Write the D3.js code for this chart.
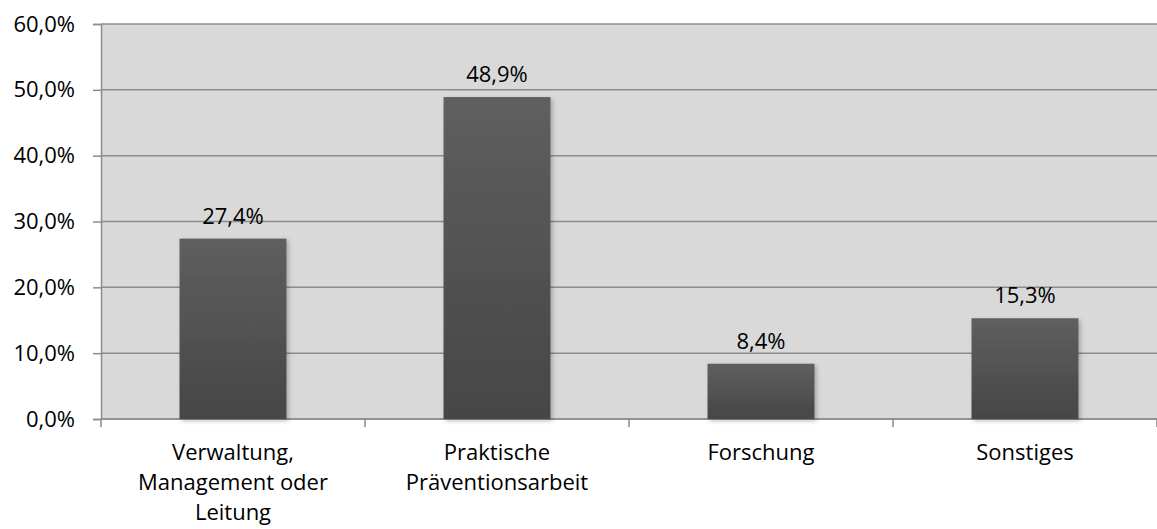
<!DOCTYPE html>
<html><head><meta charset="utf-8">
<script src="https://cdn.jsdelivr.net/npm/d3@7"></script>
<style>body{margin:0;background:#fff}svg{display:block}text{font-family:"Open Sans","DejaVu Sans",sans-serif;fill:#000}</style>
</head><body><svg id="c" width="1157" height="529"></svg>
<script>
const categories = [["Verwaltung,","Management oder","Leitung"],["Praktische","Präventionsarbeit"],["Forschung"],["Sonstiges"]];
const values = [27.4, 48.9, 8.4, 15.3];
const valueLabels = ["27,4%","48,9%","8,4%","15,3%"];
const yTicks = [0,10,20,30,40,50,60];
const yTickLabels = ["0,0%","10,0%","20,0%","30,0%","40,0%","50,0%","60,0%"];

const FS = 22;
const svg = d3.select("#c");
const L=101, R=1157, T=24, B=419;
const x = d3.scaleBand().domain(d3.range(categories.length)).range([L,R]).paddingInner(0.595).paddingOuter(0.2975);
const y = d3.scaleLinear().domain([0,60]).range([B,T]);

const defs = svg.append("defs");
const g = defs.append("linearGradient").attr("id","bg").attr("x1",0).attr("x2",0).attr("y1",0).attr("y2",1);
g.append("stop").attr("offset","0%").attr("stop-color","#5f5f5f");
g.append("stop").attr("offset","100%").attr("stop-color","#464646");
const f = defs.append("filter").attr("id","sh").attr("x","-10%").attr("y","-10%").attr("width","130%").attr("height","130%");
f.append("feDropShadow").attr("dx",2).attr("dy",2).attr("stdDeviation",2).attr("flood-color","#000").attr("flood-opacity",0.25);

svg.append("rect").attr("x",L).attr("y",T).attr("width",R-L).attr("height",B-T).attr("fill","#d9d9d9");

svg.append("g").selectAll("line").data(yTicks).join("line")
  .attr("x1",L).attr("x2",R).attr("y1",d=>y(d)).attr("y2",d=>y(d))
  .attr("stroke","#8c8c8c").attr("stroke-width",1.5);

const yAxis = svg.append("g").attr("transform",`translate(${L},0)`)
  .call(d3.axisLeft(y).tickValues(yTicks).tickFormat((d,i)=>yTickLabels[i]).tickSize(8).tickPadding(18));
yAxis.select(".domain").attr("stroke","#8c8c8c").attr("stroke-width",1.5);
yAxis.selectAll(".tick line").attr("stroke","#8c8c8c").attr("stroke-width",1.5);
yAxis.selectAll(".tick text").attr("font-size",FS).style("font-family","'Open Sans',sans-serif").attr("fill","#000");

// bottom axis
const step = (R-L)/categories.length;
const bnd = d3.range(categories.length+1).map(i=>L+i*step);
svg.append("line").attr("x1",L).attr("x2",R).attr("y1",B).attr("y2",B).attr("stroke","#8c8c8c").attr("stroke-width",1.5);
svg.append("g").selectAll("line").data(bnd).join("line")
  .attr("x1",d=>d).attr("x2",d=>d).attr("y1",B).attr("y2",B+8).attr("stroke","#8c8c8c").attr("stroke-width",1.5);

svg.append("g").selectAll("rect").data(values).join("rect")
  .attr("x",(d,i)=>x(i)).attr("width",x.bandwidth())
  .attr("y",d=>y(d)).attr("height",d=>B-y(d))
  .attr("fill","url(#bg)").attr("filter","url(#sh)");

svg.append("g").selectAll("text").data(values).join("text")
  .attr("x",(d,i)=>x(i)+x.bandwidth()/2).attr("y",d=>y(d)-15)
  .attr("text-anchor","middle").attr("font-size",FS).text((d,i)=>valueLabels[i]);

categories.forEach((lines,i)=>{
  const t = svg.append("text").attr("text-anchor","middle").attr("font-size",FS);
  lines.forEach((ln,j)=>t.append("tspan").attr("x",x(i)+x.bandwidth()/2).attr("y",460+j*30).text(ln));
});
</script></body></html>
